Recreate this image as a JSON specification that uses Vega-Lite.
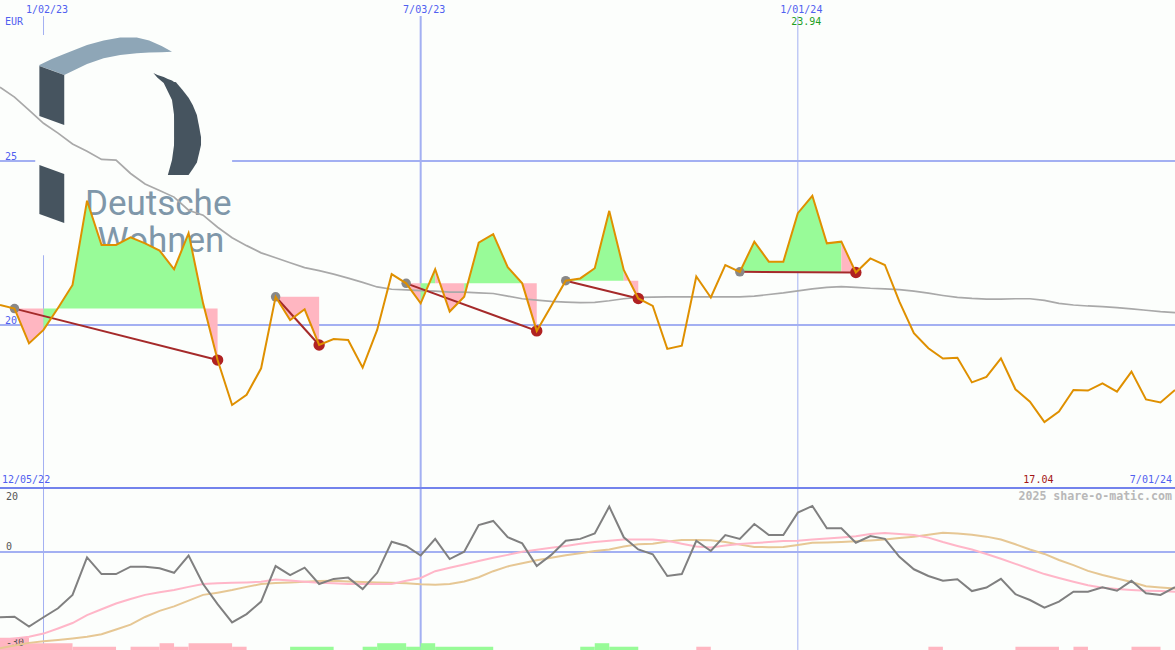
{
"$schema": "https://vega.github.io/schema/vega-lite/v6.json",
"width": 1175, "height": 650, "autosize": "none", "padding": 0,
"background": "#fcfefc",
"config": {"view": {"stroke": null}, "text": {"font": "DejaVu Sans Mono", "fontSize": 10}},
"datasets": {
"w": [
{"d":"2022-12-12","p":20.61,"ma":27.25,"o":-20.4,"m1":-27.5,"m2":-30.1},
{"d":"2022-12-19","p":20.50,"ma":26.95,"o":-20.2,"m1":-27.0,"m2":-29.2},
{"d":"2022-12-26","p":19.44,"ma":26.55,"o":-23.3,"m1":-26.5,"m2":-28.4},
{"d":"2023-01-02","p":19.85,"ma":26.15,"o":-20.4,"m1":-25.5,"m2":-27.9},
{"d":"2023-01-09","p":20.52,"ma":25.85,"o":-17.6,"m1":-23.9,"m2":-27.5},
{"d":"2023-01-16","p":21.22,"ma":25.52,"o":-13.4,"m1":-22.2,"m2":-27.0},
{"d":"2023-01-23","p":23.79,"ma":25.30,"o":-1.7,"m1":-19.7,"m2":-26.5},
{"d":"2023-01-30","p":22.44,"ma":25.05,"o":-6.9,"m1":-17.9,"m2":-25.7},
{"d":"2023-02-06","p":22.44,"ma":25.03,"o":-6.9,"m1":-16.1,"m2":-24.2},
{"d":"2023-02-13","p":22.67,"ma":24.62,"o":-4.6,"m1":-14.7,"m2":-22.7},
{"d":"2023-02-20","p":22.49,"ma":24.30,"o":-4.6,"m1":-13.4,"m2":-20.3},
{"d":"2023-02-27","p":22.27,"ma":24.10,"o":-5.1,"m1":-12.6,"m2":-18.4},
{"d":"2023-03-06","p":21.70,"ma":23.90,"o":-6.5,"m1":-11.9,"m2":-17.0},
{"d":"2023-03-13","p":22.80,"ma":23.50,"o":-1.1,"m1":-10.9,"m2":-15.2},
{"d":"2023-03-20","p":20.66,"ma":23.35,"o":-10.0,"m1":-10.0,"m2":-13.4},
{"d":"2023-03-27","p":18.93,"ma":22.98,"o":-16.3,"m1":-9.8,"m2":-12.7},
{"d":"2023-04-03","p":17.56,"ma":22.66,"o":-22.0,"m1":-9.6,"m2":-11.9},
{"d":"2023-04-10","p":17.87,"ma":22.42,"o":-19.4,"m1":-9.5,"m2":-10.9},
{"d":"2023-04-17","p":18.68,"ma":22.20,"o":-15.5,"m1":-9.3,"m2":-10.0},
{"d":"2023-04-24","p":20.86,"ma":22.05,"o":-4.4,"m1":-8.6,"m2":-9.7},
{"d":"2023-05-01","p":20.15,"ma":21.90,"o":-7.2,"m1":-8.9,"m2":-9.5},
{"d":"2023-05-08","p":20.48,"ma":21.75,"o":-4.9,"m1":-9.3,"m2":-9.3},
{"d":"2023-05-15","p":19.39,"ma":21.66,"o":-10.0,"m1":-9.6,"m2":-9.1},
{"d":"2023-05-22","p":19.57,"ma":21.55,"o":-8.4,"m1":-9.8,"m2":-9.0},
{"d":"2023-05-29","p":19.54,"ma":21.43,"o":-8.0,"m1":-10.0,"m2":-9.2},
{"d":"2023-06-05","p":18.70,"ma":21.30,"o":-11.6,"m1":-10.0,"m2":-9.4},
{"d":"2023-06-12","p":19.85,"ma":21.16,"o":-6.5,"m1":-10.0,"m2":-9.5},
{"d":"2023-06-19","p":21.55,"ma":21.09,"o":3.2,"m1":-10.0,"m2":-9.6},
{"d":"2023-06-26","p":21.27,"ma":21.07,"o":1.9,"m1":-9.0,"m2":-9.8},
{"d":"2023-07-03","p":20.66,"ma":21.05,"o":-1.1,"m1":-8.1,"m2":-10.1},
{"d":"2023-07-10","p":21.70,"ma":21.03,"o":4.1,"m1":-6.0,"m2":-10.2},
{"d":"2023-07-17","p":20.41,"ma":21.00,"o":-2.2,"m1":-4.9,"m2":-10.0},
{"d":"2023-07-24","p":20.86,"ma":21.00,"o":0.1,"m1":-3.9,"m2":-9.2},
{"d":"2023-07-31","p":22.51,"ma":20.98,"o":8.4,"m1":-2.8,"m2":-7.9},
{"d":"2023-08-07","p":22.77,"ma":20.96,"o":9.7,"m1":-1.8,"m2":-6.0},
{"d":"2023-08-14","p":21.76,"ma":20.88,"o":4.6,"m1":-0.9,"m2":-4.5},
{"d":"2023-08-21","p":21.27,"ma":20.80,"o":2.7,"m1":0.1,"m2":-3.5},
{"d":"2023-08-28","p":19.82,"ma":20.76,"o":-4.4,"m1":0.7,"m2":-2.6},
{"d":"2023-09-04","p":20.58,"ma":20.72,"o":-0.9,"m1":1.3,"m2":-1.8},
{"d":"2023-09-11","p":21.35,"ma":20.70,"o":3.5,"m1":1.9,"m2":-1.0},
{"d":"2023-09-18","p":21.42,"ma":20.68,"o":4.1,"m1":2.6,"m2":-0.4},
{"d":"2023-09-25","p":21.73,"ma":20.69,"o":5.8,"m1":3.1,"m2":0.3},
{"d":"2023-10-02","p":23.48,"ma":20.74,"o":14.2,"m1":3.5,"m2":0.8},
{"d":"2023-10-09","p":21.68,"ma":20.80,"o":4.6,"m1":3.9,"m2":1.7},
{"d":"2023-10-16","p":20.81,"ma":20.84,"o":0.8,"m1":3.9,"m2":2.4},
{"d":"2023-10-23","p":20.58,"ma":20.85,"o":-0.7,"m1":3.9,"m2":2.6},
{"d":"2023-10-30","p":19.27,"ma":20.86,"o":-7.5,"m1":3.5,"m2":3.3},
{"d":"2023-11-06","p":19.37,"ma":20.86,"o":-6.9,"m1":2.6,"m2":3.75},
{"d":"2023-11-13","p":21.48,"ma":20.86,"o":3.5,"m1":1.7,"m2":3.75},
{"d":"2023-11-20","p":20.84,"ma":20.86,"o":0.3,"m1":1.4,"m2":3.7},
{"d":"2023-11-27","p":21.83,"ma":20.86,"o":5.3,"m1":2.0,"m2":3.1},
{"d":"2023-12-04","p":21.62,"ma":20.86,"o":4.1,"m1":2.5,"m2":2.3},
{"d":"2023-12-11","p":22.54,"ma":20.88,"o":8.75,"m1":2.8,"m2":1.6},
{"d":"2023-12-18","p":21.93,"ma":20.93,"o":5.3,"m1":3.1,"m2":1.5},
{"d":"2023-12-25","p":21.93,"ma":20.98,"o":5.3,"m1":3.4,"m2":1.6},
{"d":"2024-01-01","p":23.41,"ma":21.04,"o":12.3,"m1":3.5,"m2":2.2},
{"d":"2024-01-08","p":23.94,"ma":21.10,"o":14.4,"m1":3.9,"m2":2.9},
{"d":"2024-01-15","p":22.49,"ma":21.15,"o":7.4,"m1":4.2,"m2":3.0},
{"d":"2024-01-22","p":22.54,"ma":21.17,"o":7.4,"m1":4.5,"m2":3.15},
{"d":"2024-01-29","p":21.60,"ma":21.15,"o":2.9,"m1":4.9,"m2":3.35},
{"d":"2024-02-05","p":22.03,"ma":21.12,"o":5.0,"m1":5.6,"m2":3.6},
{"d":"2024-02-12","p":21.83,"ma":21.10,"o":4.1,"m1":5.9,"m2":3.9},
{"d":"2024-02-19","p":20.71,"ma":21.08,"o":-1.5,"m1":5.6,"m2":4.35},
{"d":"2024-02-26","p":19.75,"ma":21.03,"o":-5.4,"m1":5.3,"m2":4.8},
{"d":"2024-03-04","p":19.29,"ma":20.97,"o":-7.5,"m1":4.5,"m2":5.4},
{"d":"2024-03-11","p":18.98,"ma":20.90,"o":-9.0,"m1":3.1,"m2":6.0},
{"d":"2024-03-18","p":19.00,"ma":20.84,"o":-8.5,"m1":1.9,"m2":5.8},
{"d":"2024-03-25","p":18.25,"ma":20.81,"o":-12.2,"m1":0.8,"m2":5.4},
{"d":"2024-04-01","p":18.42,"ma":20.79,"o":-11.1,"m1":-0.6,"m2":4.8},
{"d":"2024-04-08","p":18.98,"ma":20.79,"o":-8.4,"m1":-2.1,"m2":3.9},
{"d":"2024-04-15","p":18.04,"ma":20.80,"o":-13.2,"m1":-3.7,"m2":2.4},
{"d":"2024-04-22","p":17.66,"ma":20.80,"o":-15.0,"m1":-5.3,"m2":0.8},
{"d":"2024-04-29","p":17.04,"ma":20.75,"o":-17.4,"m1":-6.9,"m2":-0.6},
{"d":"2024-05-06","p":17.36,"ma":20.66,"o":-15.5,"m1":-8.1,"m2":-2.5},
{"d":"2024-05-13","p":18.02,"ma":20.61,"o":-12.4,"m1":-9.3,"m2":-4.1},
{"d":"2024-05-20","p":18.00,"ma":20.58,"o":-12.4,"m1":-10.4,"m2":-5.9},
{"d":"2024-05-27","p":18.22,"ma":20.56,"o":-11.0,"m1":-11.2,"m2":-7.2},
{"d":"2024-06-03","p":17.97,"ma":20.53,"o":-12.1,"m1":-11.6,"m2":-8.3},
{"d":"2024-06-10","p":18.58,"ma":20.49,"o":-9.0,"m1":-11.9,"m2":-9.4},
{"d":"2024-06-17","p":17.73,"ma":20.45,"o":-12.9,"m1":-12.1,"m2":-10.7},
{"d":"2024-06-24","p":17.64,"ma":20.41,"o":-13.4,"m1":-12.2,"m2":-11.1},
{"d":"2024-07-01","p":18.02,"ma":20.38,"o":-11.0,"m1":-12.4,"m2":-11.4}
],
"fills": [
{"d":"2022-12-19","p":20.50,"l":20.5,"b":"A1","c":"down"},
{"d":"2022-12-26","p":19.44,"l":20.5,"b":"A1","c":"down"},
{"d":"2023-01-02","p":19.85,"l":20.5,"b":"A1","c":"down"},
{"d":"2023-01-02","p":19.85,"l":20.5,"b":"A2","c":"up"},
{"d":"2023-01-09","p":20.52,"l":20.5,"b":"A2","c":"up"},
{"d":"2023-01-16","p":21.22,"l":20.5,"b":"A2","c":"up"},
{"d":"2023-01-23","p":23.79,"l":20.5,"b":"A2","c":"up"},
{"d":"2023-01-30","p":22.44,"l":20.5,"b":"A2","c":"up"},
{"d":"2023-02-06","p":22.44,"l":20.5,"b":"A2","c":"up"},
{"d":"2023-02-13","p":22.67,"l":20.5,"b":"A2","c":"up"},
{"d":"2023-02-20","p":22.49,"l":20.5,"b":"A2","c":"up"},
{"d":"2023-02-27","p":22.27,"l":20.5,"b":"A2","c":"up"},
{"d":"2023-03-06","p":21.70,"l":20.5,"b":"A2","c":"up"},
{"d":"2023-03-13","p":22.80,"l":20.5,"b":"A2","c":"up"},
{"d":"2023-03-20","p":20.66,"l":20.5,"b":"A2","c":"up"},
{"d":"2023-03-20","p":20.66,"l":20.5,"b":"A3","c":"down"},
{"d":"2023-03-27","p":18.93,"l":20.5,"b":"A3","c":"down"},
{"d":"2023-04-24","p":20.86,"l":20.86,"b":"B1","c":"down"},
{"d":"2023-05-01","p":20.15,"l":20.86,"b":"B1","c":"down"},
{"d":"2023-05-08","p":20.48,"l":20.86,"b":"B1","c":"down"},
{"d":"2023-05-15","p":19.39,"l":20.86,"b":"B1","c":"down"},
{"d":"2023-06-26","p":21.27,"l":21.27,"b":"C1","c":"down"},
{"d":"2023-07-03","p":20.66,"l":21.27,"b":"C1","c":"down"},
{"d":"2023-07-03","p":20.66,"l":21.27,"b":"C2","c":"up"},
{"d":"2023-07-10","p":21.70,"l":21.27,"b":"C2","c":"up"},
{"d":"2023-07-10","p":21.70,"l":21.27,"b":"C3","c":"down"},
{"d":"2023-07-17","p":20.41,"l":21.27,"b":"C3","c":"down"},
{"d":"2023-07-24","p":20.86,"l":21.27,"b":"C3","c":"down"},
{"d":"2023-07-24","p":20.86,"l":21.27,"b":"C4","c":"up"},
{"d":"2023-07-31","p":22.51,"l":21.27,"b":"C4","c":"up"},
{"d":"2023-08-07","p":22.77,"l":21.27,"b":"C4","c":"up"},
{"d":"2023-08-14","p":21.76,"l":21.27,"b":"C4","c":"up"},
{"d":"2023-08-21","p":21.27,"l":21.27,"b":"C4","c":"up"},
{"d":"2023-08-21","p":21.27,"l":21.27,"b":"C5","c":"down"},
{"d":"2023-08-28","p":19.82,"l":21.27,"b":"C5","c":"down"},
{"d":"2023-09-11","p":21.35,"l":21.35,"b":"D1","c":"up"},
{"d":"2023-09-18","p":21.42,"l":21.35,"b":"D1","c":"up"},
{"d":"2023-09-25","p":21.73,"l":21.35,"b":"D1","c":"up"},
{"d":"2023-10-02","p":23.48,"l":21.35,"b":"D1","c":"up"},
{"d":"2023-10-09","p":21.68,"l":21.35,"b":"D1","c":"up"},
{"d":"2023-10-09","p":21.68,"l":21.35,"b":"D2","c":"down"},
{"d":"2023-10-16","p":20.81,"l":21.35,"b":"D2","c":"down"},
{"d":"2023-12-04","p":21.62,"l":21.62,"b":"E1","c":"up"},
{"d":"2023-12-11","p":22.54,"l":21.62,"b":"E1","c":"up"},
{"d":"2023-12-18","p":21.93,"l":21.62,"b":"E1","c":"up"},
{"d":"2023-12-25","p":21.93,"l":21.62,"b":"E1","c":"up"},
{"d":"2024-01-01","p":23.41,"l":21.62,"b":"E1","c":"up"},
{"d":"2024-01-08","p":23.94,"l":21.62,"b":"E1","c":"up"},
{"d":"2024-01-15","p":22.49,"l":21.62,"b":"E1","c":"up"},
{"d":"2024-01-22","p":22.54,"l":21.62,"b":"E1","c":"up"},
{"d":"2024-01-22","p":22.54,"l":21.62,"b":"E2","c":"down"},
{"d":"2024-01-29","p":21.60,"l":21.62,"b":"E2","c":"down"}
],
"trend": [
{"d":"2022-12-19","p":20.50,"s":"A","r":"start"},{"d":"2023-03-27","p":18.93,"s":"A","r":"end"},
{"d":"2023-04-24","p":20.86,"s":"B","r":"start"},{"d":"2023-05-15","p":19.39,"s":"B","r":"end"},
{"d":"2023-06-26","p":21.27,"s":"C","r":"start"},{"d":"2023-08-28","p":19.82,"s":"C","r":"end"},
{"d":"2023-09-11","p":21.35,"s":"D","r":"start"},{"d":"2023-10-16","p":20.81,"s":"D","r":"end"},
{"d":"2023-12-04","p":21.62,"s":"E","r":"start"},{"d":"2024-01-29","p":21.60,"s":"E","r":"end"}
],
"bars": [
{"s":"2022-12-12","e":"2022-12-26","h":-26.8,"c":"down"},
{"s":"2022-12-26","e":"2023-01-16","h":-28.5,"c":"down"},
{"s":"2023-01-16","e":"2023-02-06","h":-29.6,"c":"down"},
{"s":"2023-02-13","e":"2023-02-27","h":-29.6,"c":"down"},
{"s":"2023-02-27","e":"2023-03-06","h":-28.5,"c":"down"},
{"s":"2023-03-06","e":"2023-03-13","h":-29.6,"c":"down"},
{"s":"2023-03-13","e":"2023-04-03","h":-28.5,"c":"down"},
{"s":"2023-04-03","e":"2023-04-10","h":-29.6,"c":"down"},
{"s":"2023-05-01","e":"2023-05-22","h":-29.6,"c":"up"},
{"s":"2023-06-05","e":"2023-06-12","h":-29.6,"c":"up"},
{"s":"2023-06-12","e":"2023-06-26","h":-28.5,"c":"up"},
{"s":"2023-06-26","e":"2023-07-03","h":-29.6,"c":"up"},
{"s":"2023-07-03","e":"2023-07-10","h":-28.5,"c":"up"},
{"s":"2023-07-10","e":"2023-08-07","h":-29.6,"c":"up"},
{"s":"2023-09-18","e":"2023-09-25","h":-29.6,"c":"up"},
{"s":"2023-09-25","e":"2023-10-02","h":-28.5,"c":"up"},
{"s":"2023-10-02","e":"2023-10-16","h":-29.6,"c":"up"},
{"s":"2023-11-13","e":"2023-11-20","h":-29.6,"c":"down"},
{"s":"2024-03-04","e":"2024-03-11","h":-29.6,"c":"down"},
{"s":"2024-04-15","e":"2024-05-06","h":-29.6,"c":"down"},
{"s":"2024-05-13","e":"2024-05-20","h":-29.6,"c":"down"},
{"s":"2024-06-10","e":"2024-06-24","h":-29.6,"c":"down"}
],
"lg": [
{"part":"arc","d":"2022-12-31","t":27.93,"b":27.90},
{"part":"arc","d":"2023-01-06","t":28.11,"b":27.77},
{"part":"arc","d":"2023-01-12","t":28.26,"b":27.62},
{"part":"arc","d":"2023-01-23","t":28.54,"b":27.96},
{"part":"arc","d":"2023-01-31","t":28.675,"b":28.13},
{"part":"arc","d":"2023-02-08","t":28.77,"b":28.23},
{"part":"arc","d":"2023-02-16","t":28.77,"b":28.285},
{"part":"arc","d":"2023-02-22","t":28.675,"b":28.31},
{"part":"arc","d":"2023-02-28","t":28.51,"b":28.32},
{"part":"arc","d":"2023-03-05","t":28.33,"b":28.33},
{"part":"blk1","d":"2022-12-31","t":27.90,"b":26.37},
{"part":"blk1","d":"2023-01-12","t":27.62,"b":26.10},
{"part":"blk2","d":"2022-12-31","t":24.88,"b":23.385},
{"part":"blk2","d":"2023-01-12","t":24.605,"b":23.11},
{"part":"c1","d":"2023-02-24","t":27.684,"b":27.684},
{"part":"c1","d":"2023-02-26","t":27.623,"b":27.538},
{"part":"c1","d":"2023-03-01","t":27.559,"b":27.379},
{"part":"c1","d":"2023-03-03","t":27.504,"b":27.12},
{"part":"c1","d":"2023-03-05","t":27.452,"b":26.861},
{"part":"c1","d":"2023-03-06","t":27.407,"b":26.403},
{"part":"c1","d":"2023-03-07","t":27.394,"b":25.946},
{"part":"c2","d":"2023-03-03","t":24.574,"b":24.574},
{"part":"c2","d":"2023-03-05","t":25.031,"b":24.574},
{"part":"c2","d":"2023-03-06","t":25.489,"b":24.574},
{"part":"c2","d":"2023-03-07","t":25.946,"b":24.574},
{"part":"c3","d":"2023-03-06","t":27.407,"b":24.574},
{"part":"c3","d":"2023-03-07","t":27.394,"b":24.574},
{"part":"c3","d":"2023-03-10","t":27.172,"b":24.574},
{"part":"c3","d":"2023-03-13","t":26.928,"b":24.574},
{"part":"c3","d":"2023-03-15","t":26.708,"b":24.757},
{"part":"c3","d":"2023-03-17","t":26.403,"b":24.955},
{"part":"c3","d":"2023-03-18","t":26.077,"b":25.214},
{"part":"c3","d":"2023-03-19","t":25.732,"b":25.489}
]
},
"layer": [
{"layer": [
{"data": {"values": [{"v":20},{"v":25}]},
 "mark": {"type": "rule", "color": "#a3b0f2", "strokeWidth": 2},
 "encoding": {
  "y": {"field": "v", "type": "quantitative", "axis": null, "scale": {"domain": [15.06, 29.91], "range": [487, 0], "zero": false, "nice": false}}}},
{"data": {"values": [{"d":"2023-01-02"},{"d":"2023-07-03"},{"d":"2024-01-01"}]},
 "mark": {"type": "rule", "color": "#a3b0f2"},
 "encoding": {
  "x": {"field": "d", "type": "temporal", "axis": null, "scale": {"type": "utc", "domain": [{"year":2022,"month":12,"date":12,"utc":true},{"year":2024,"month":7,"date":1,"utc":true}], "nice": false}},
  "y": {"datum": 29.42, "type": "quantitative", "axis": null, "scale": {"domain": [15.06, 29.91], "range": [487, 0], "zero": false, "nice": false}},
  "y2": {"datum": 10.09},
  "strokeWidth": {"condition": {"test": "utcmonth(datum.d) === 6", "value": 2}, "value": 1}}},
{"data": {"values": [{"d":"2023-01-02","t":"1/02/23"},{"d":"2023-07-03","t":"7/03/23"},{"d":"2024-01-01","t":"1/01/24"}]},
 "mark": {"type": "text", "align": "center", "baseline": "alphabetic", "dx": 3.5, "color": "#5060f0"},
 "encoding": {
  "x": {"field": "d", "type": "temporal", "axis": null, "scale": {"type": "utc", "domain": [{"year":2022,"month":12,"date":12,"utc":true},{"year":2024,"month":7,"date":1,"utc":true}], "nice": false}},
  "y": {"datum": 29.514, "type": "quantitative", "axis": null, "scale": {"domain": [15.06, 29.91], "range": [487, 0], "zero": false, "nice": false}},
  "text": {"field": "t"}}},
{"data": {"values": [{"d1":"2022-12-29","d2":"2023-04-03","v1":28.84,"v2":22.13}]},
 "mark": {"type": "rect", "color": "#fcfefc"},
 "encoding": {
  "x": {"field": "d1", "type": "temporal", "axis": null, "scale": {"type": "utc", "domain": [{"year":2022,"month":12,"date":12,"utc":true},{"year":2024,"month":7,"date":1,"utc":true}], "nice": false}},
  "x2": {"field": "d2"},
  "y": {"field": "v1", "type": "quantitative", "axis": null, "scale": {"domain": [15.06, 29.91], "range": [487, 0], "zero": false, "nice": false}},
  "y2": {"field": "v2"}}},
{"data": {"name": "lg"},
 "mark": {"type": "area"},
 "encoding": {
  "x": {"field": "d", "type": "temporal", "axis": null, "scale": {"type": "utc", "domain": [{"year":2022,"month":12,"date":12,"utc":true},{"year":2024,"month":7,"date":1,"utc":true}], "nice": false}},
  "y": {"field": "t", "type": "quantitative", "stack": null, "axis": null, "scale": {"domain": [15.06, 29.91], "range": [487, 0], "zero": false, "nice": false}},
  "y2": {"field": "b"},
  "detail": {"field": "part"},
  "color": {"condition": {"test": "datum.part === 'arc'", "value": "#8ea6b7"}, "value": "#46545f"}}},
{"data": {"values": [{"d":"2023-01-22","v":23.354,"t":"Deutsche"},{"d":"2023-01-28","v":22.226,"t":"Wohnen"}]},
 "mark": {"type": "text", "font": "Roboto", "fontSize": 35, "color": "#7f97a9", "align": "left", "baseline": "alphabetic"},
 "encoding": {
  "x": {"field": "d", "type": "temporal", "axis": null, "scale": {"type": "utc", "domain": [{"year":2022,"month":12,"date":12,"utc":true},{"year":2024,"month":7,"date":1,"utc":true}], "nice": false}},
  "y": {"field": "v", "type": "quantitative", "axis": null, "scale": {"domain": [15.06, 29.91], "range": [487, 0], "zero": false, "nice": false}},
  "text": {"field": "t"}}},
{"data": {"values": [{"v":20,"t":"20"},{"v":25,"t":"25"}]},
 "mark": {"type": "text", "align": "left", "baseline": "alphabetic", "dx": 5, "dy": -1, "color": "#5060f0"},
 "encoding": {
  "x": {"datum": {"year":2022,"month":12,"date":12,"utc":true}, "type": "temporal", "axis": null, "scale": {"type": "utc", "domain": [{"year":2022,"month":12,"date":12,"utc":true},{"year":2024,"month":7,"date":1,"utc":true}], "nice": false}},
  "y": {"field": "v", "type": "quantitative", "axis": null, "scale": {"domain": [15.06, 29.91], "range": [487, 0], "zero": false, "nice": false}},
  "text": {"field": "t"}}},
{"data": {"name": "fills"},
 "mark": {"type": "area", "opacity": 1},
 "encoding": {
  "x": {"field": "d", "type": "temporal", "axis": null, "scale": {"type": "utc", "domain": [{"year":2022,"month":12,"date":12,"utc":true},{"year":2024,"month":7,"date":1,"utc":true}], "nice": false}},
  "y": {"field": "p", "type": "quantitative", "stack": null, "axis": null, "scale": {"domain": [15.06, 29.91], "range": [487, 0], "zero": false, "nice": false}},
  "y2": {"field": "l"},
  "detail": {"field": "b"},
  "color": {"condition": {"test": "datum.c === 'up'", "value": "#98fb98"}, "value": "#ffb6c1"}}},
{"data": {"name": "w"},
 "mark": {"type": "line", "color": "#a9a9a9", "strokeWidth": 1.7},
 "encoding": {
  "x": {"field": "d", "type": "temporal", "axis": null, "scale": {"type": "utc", "domain": [{"year":2022,"month":12,"date":12,"utc":true},{"year":2024,"month":7,"date":1,"utc":true}], "nice": false}},
  "y": {"field": "ma", "type": "quantitative", "axis": null, "scale": {"domain": [15.06, 29.91], "range": [487, 0], "zero": false, "nice": false}}}},
{"data": {"name": "trend"},
 "mark": {"type": "line", "color": "#a52a2a", "strokeWidth": 2},
 "encoding": {
  "x": {"field": "d", "type": "temporal", "axis": null, "scale": {"type": "utc", "domain": [{"year":2022,"month":12,"date":12,"utc":true},{"year":2024,"month":7,"date":1,"utc":true}], "nice": false}},
  "y": {"field": "p", "type": "quantitative", "axis": null, "scale": {"domain": [15.06, 29.91], "range": [487, 0], "zero": false, "nice": false}},
  "detail": {"field": "s"}}},
{"data": {"name": "trend"},
 "mark": {"type": "point", "filled": true, "opacity": 1},
 "encoding": {
  "x": {"field": "d", "type": "temporal", "axis": null, "scale": {"type": "utc", "domain": [{"year":2022,"month":12,"date":12,"utc":true},{"year":2024,"month":7,"date":1,"utc":true}], "nice": false}},
  "y": {"field": "p", "type": "quantitative", "axis": null, "scale": {"domain": [15.06, 29.91], "range": [487, 0], "zero": false, "nice": false}},
  "color": {"condition": {"test": "datum.r === 'start'", "value": "#888888"}, "value": "#b02222"},
  "size": {"condition": {"test": "datum.r === 'start'", "value": 90}, "value": 130}}},
{"data": {"name": "w"},
 "mark": {"type": "line", "color": "#df9000", "strokeWidth": 2},
 "encoding": {
  "x": {"field": "d", "type": "temporal", "axis": null, "scale": {"type": "utc", "domain": [{"year":2022,"month":12,"date":12,"utc":true},{"year":2024,"month":7,"date":1,"utc":true}], "nice": false}},
  "y": {"field": "p", "type": "quantitative", "axis": null, "scale": {"domain": [15.06, 29.91], "range": [487, 0], "zero": false, "nice": false}}}},
{"data": {"values": [{}]},
 "mark": {"type": "text", "align": "left", "baseline": "alphabetic", "dx": 5, "color": "#5060f0"},
 "encoding": {
  "x": {"datum": {"year":2022,"month":12,"date":12,"utc":true}, "type": "temporal", "axis": null, "scale": {"type": "utc", "domain": [{"year":2022,"month":12,"date":12,"utc":true},{"year":2024,"month":7,"date":1,"utc":true}], "nice": false}},
  "y": {"datum": 29.148, "type": "quantitative", "axis": null, "scale": {"domain": [15.06, 29.91], "range": [487, 0], "zero": false, "nice": false}},
  "text": {"value": "EUR"}}},
{"data": {"values": [{}]},
 "mark": {"type": "text", "align": "left", "baseline": "alphabetic", "dx": 2, "color": "#5060f0"},
 "encoding": {
  "x": {"datum": {"year":2022,"month":12,"date":12,"utc":true}, "type": "temporal", "axis": null, "scale": {"type": "utc", "domain": [{"year":2022,"month":12,"date":12,"utc":true},{"year":2024,"month":7,"date":1,"utc":true}], "nice": false}},
  "y": {"datum": 15.182, "type": "quantitative", "axis": null, "scale": {"domain": [15.06, 29.91], "range": [487, 0], "zero": false, "nice": false}},
  "text": {"value": "12/05/22"}}},
{"data": {"values": [{}]},
 "mark": {"type": "text", "align": "right", "baseline": "alphabetic", "dx": -3, "color": "#5060f0"},
 "encoding": {
  "x": {"datum": {"year":2024,"month":7,"date":1,"utc":true}, "type": "temporal", "axis": null, "scale": {"type": "utc", "domain": [{"year":2022,"month":12,"date":12,"utc":true},{"year":2024,"month":7,"date":1,"utc":true}], "nice": false}},
  "y": {"datum": 15.182, "type": "quantitative", "axis": null, "scale": {"domain": [15.06, 29.91], "range": [487, 0], "zero": false, "nice": false}},
  "text": {"value": "7/01/24"}}},
{"data": {"values": [{}]},
 "mark": {"type": "text", "align": "right", "baseline": "alphabetic", "dx": -3, "color": "#b8b8b8", "fontWeight": "bold", "fontSize": 11.6},
 "encoding": {
  "x": {"datum": {"year":2024,"month":7,"date":1,"utc":true}, "type": "temporal", "axis": null, "scale": {"type": "utc", "domain": [{"year":2022,"month":12,"date":12,"utc":true},{"year":2024,"month":7,"date":1,"utc":true}], "nice": false}},
  "y": {"datum": 14.664, "type": "quantitative", "axis": null, "scale": {"domain": [15.06, 29.91], "range": [487, 0], "zero": false, "nice": false}},
  "text": {"value": "2025 share-o-matic.com"}}},
{"data": {"values": [{"d":"2024-01-08","p":23.94}]},
 "mark": {"type": "text", "align": "right", "baseline": "alphabetic", "dx": 9, "color": "#1f9e1f"},
 "encoding": {
  "x": {"field": "d", "type": "temporal", "axis": null, "scale": {"type": "utc", "domain": [{"year":2022,"month":12,"date":12,"utc":true},{"year":2024,"month":7,"date":1,"utc":true}], "nice": false}},
  "y": {"datum": 29.148, "type": "quantitative", "axis": null, "scale": {"domain": [15.06, 29.91], "range": [487, 0], "zero": false, "nice": false}},
  "text": {"field": "p", "type": "quantitative", "format": ".2f"}}},
{"data": {"values": [{"d":"2024-04-29","p":17.04}]},
 "mark": {"type": "text", "align": "right", "baseline": "alphabetic", "dx": 9, "color": "#a31515"},
 "encoding": {
  "x": {"field": "d", "type": "temporal", "axis": null, "scale": {"type": "utc", "domain": [{"year":2022,"month":12,"date":12,"utc":true},{"year":2024,"month":7,"date":1,"utc":true}], "nice": false}},
  "y": {"datum": 15.182, "type": "quantitative", "axis": null, "scale": {"domain": [15.06, 29.91], "range": [487, 0], "zero": false, "nice": false}},
  "text": {"field": "p", "type": "quantitative", "format": ".2f"}}}
]},
{"layer": [
{"data": {"values": [{"v":0},{"v":20}]},
 "mark": {"type": "rule", "strokeWidth": 2},
 "encoding": {
  "y": {"field": "v", "type": "quantitative", "axis": null, "scale": {"domain": [-30.625, 20], "range": [650, 488], "zero": false, "nice": false}},
  "color": {"condition": {"test": "datum.v === 20", "value": "#7383ec"}, "value": "#a3b0f2"}}},
{"data": {"name": "bars"},
 "mark": {"type": "rect"},
 "encoding": {
  "x": {"field": "s", "type": "temporal", "axis": null, "scale": {"type": "utc", "domain": [{"year":2022,"month":12,"date":12,"utc":true},{"year":2024,"month":7,"date":1,"utc":true}], "nice": false}},
  "x2": {"field": "e"},
  "y": {"field": "h", "type": "quantitative", "axis": null, "scale": {"domain": [-30.625, 20], "range": [650, 488], "zero": false, "nice": false}},
  "y2": {"datum": -31},
  "color": {"condition": {"test": "datum.c === 'up'", "value": "#98fb98"}, "value": "#ffb6c1"}}},
{"data": {"values": [{"v":0,"t":"0"},{"v":-30,"t":"-30"}]},
 "mark": {"type": "text", "align": "left", "baseline": "alphabetic", "dx": 6, "dy": -2, "color": "#555555"},
 "encoding": {
  "x": {"datum": {"year":2022,"month":12,"date":12,"utc":true}, "type": "temporal", "axis": null, "scale": {"type": "utc", "domain": [{"year":2022,"month":12,"date":12,"utc":true},{"year":2024,"month":7,"date":1,"utc":true}], "nice": false}},
  "y": {"field": "v", "type": "quantitative", "axis": null, "scale": {"domain": [-30.625, 20], "range": [650, 488], "zero": false, "nice": false}},
  "text": {"field": "t"}}},
{"data": {"values": [{"v":20,"t":"20"}]},
 "mark": {"type": "text", "align": "left", "baseline": "alphabetic", "dx": 6, "dy": 11.5, "color": "#555555"},
 "encoding": {
  "x": {"datum": {"year":2022,"month":12,"date":12,"utc":true}, "type": "temporal", "axis": null, "scale": {"type": "utc", "domain": [{"year":2022,"month":12,"date":12,"utc":true},{"year":2024,"month":7,"date":1,"utc":true}], "nice": false}},
  "y": {"field": "v", "type": "quantitative", "axis": null, "scale": {"domain": [-30.625, 20], "range": [650, 488], "zero": false, "nice": false}},
  "text": {"field": "t"}}},
{"data": {"name": "w"},
 "mark": {"type": "line", "color": "#e6c794", "strokeWidth": 2},
 "encoding": {
  "x": {"field": "d", "type": "temporal", "axis": null, "scale": {"type": "utc", "domain": [{"year":2022,"month":12,"date":12,"utc":true},{"year":2024,"month":7,"date":1,"utc":true}], "nice": false}},
  "y": {"field": "m2", "type": "quantitative", "axis": null, "scale": {"domain": [-30.625, 20], "range": [650, 488], "zero": false, "nice": false}}}},
{"data": {"name": "w"},
 "mark": {"type": "line", "color": "#ffb6c8", "strokeWidth": 2},
 "encoding": {
  "x": {"field": "d", "type": "temporal", "axis": null, "scale": {"type": "utc", "domain": [{"year":2022,"month":12,"date":12,"utc":true},{"year":2024,"month":7,"date":1,"utc":true}], "nice": false}},
  "y": {"field": "m1", "type": "quantitative", "axis": null, "scale": {"domain": [-30.625, 20], "range": [650, 488], "zero": false, "nice": false}}}},
{"data": {"name": "w"},
 "mark": {"type": "line", "color": "#808080", "strokeWidth": 2},
 "encoding": {
  "x": {"field": "d", "type": "temporal", "axis": null, "scale": {"type": "utc", "domain": [{"year":2022,"month":12,"date":12,"utc":true},{"year":2024,"month":7,"date":1,"utc":true}], "nice": false}},
  "y": {"field": "o", "type": "quantitative", "axis": null, "scale": {"domain": [-30.625, 20], "range": [650, 488], "zero": false, "nice": false}}}}
]}
],
"resolve": {"scale": {"y": "independent"}}
}
